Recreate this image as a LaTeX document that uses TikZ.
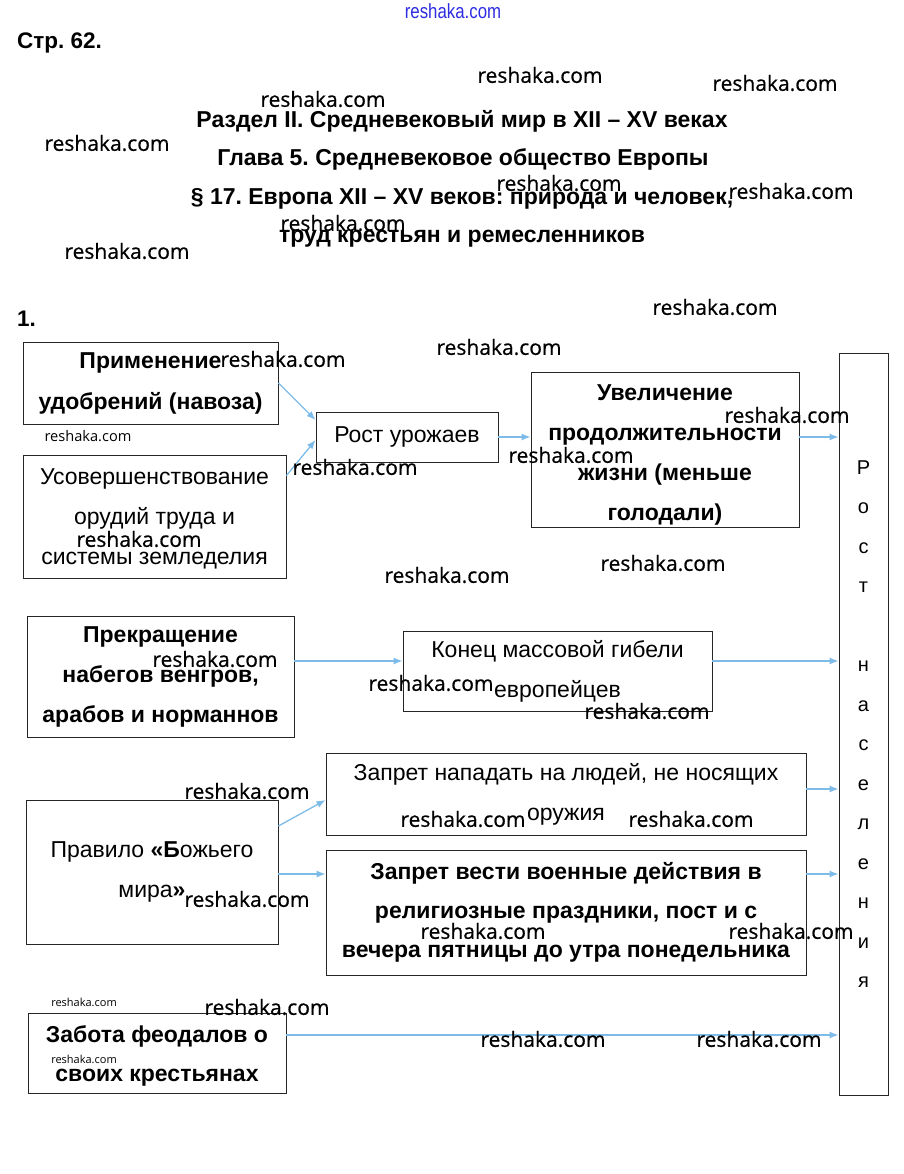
\documentclass[tikz,border=0pt]{standalone}
\usepackage{fontspec}
\setmainfont{Liberation Sans}
\newfontfamily\narrowfont[FakeStretch=0.82]{Liberation Sans}
\newfontfamily\markfont[FakeBold=0.6]{Open Sans}
\newfontfamily\smallmarkfont{Open Sans}
\usetikzlibrary{arrows.meta, positioning}
\definecolor{arrowblue}{RGB}{125,188,232}
\definecolor{markblue}{RGB}{45,45,225}
\frenchspacing

\begin{document}
\begin{tikzpicture}[x=1pt, y=-1pt,
	box/.style={draw=black!85, line width=0.9pt, align=center, inner sep=0pt, font=\fontsize{23}{40}\selectfont},
	heading/.style={font=\bfseries\fontsize{23}{23}\selectfont, inner sep=0pt},
	link/.style={draw=arrowblue, line width=1.3pt, -{Latex[length=9pt, width=7pt]}},
	wmark/.style={font=\markfont\fontsize{21}{21}\selectfont, inner sep=0pt},
	smallwmark/.style={font=\smallmarkfont\fontsize{14.6}{15}\selectfont, inner sep=0pt}]
	% Page:
	\fill[white] (0,0) rectangle (903,1174);
	\useasboundingbox (0,0) rectangle (903,1174);
	% Headings:
	\node[heading, font=\bfseries\fontsize{22.5}{22}\selectfont, anchor=west] (page) at (17,43) {Стр. 62.};
	\node[heading] (part) at (462,121) {Раздел II. Средневековый мир в XII – XV веках};
	\node[heading] (chapter) at (463,159) {Глава 5. Средневековое общество Европы};
	\node[heading] (para) at (462,199) {§ 17. Европа XII – XV веков: природа и человек,};
	\node[heading] (para2) at (462,239) {труд крестьян и ремесленников};
	\node[heading, font=\bfseries\fontsize{22.5}{22}\selectfont, anchor=west] (task) at (17,319) {1.};
	% Boxes:
	\node[box, minimum width=255pt, minimum height=82pt, font=\fontsize{23}{41}\selectfont] (fert) at (150.5,383) {\textbf{Применение}\\\textbf{удобрений (навоза)}};
	\node[box, minimum width=263pt, minimum height=123pt] (tools) at (154.5,516.5) {\rule{0pt}{20.5pt}Усовершенствование\\орудий труда и\\системы земледелия};
	\node[box, minimum width=182pt, minimum height=50pt] (harvest) at (407,437) {Рост урожаев};
	\node[box, minimum width=268pt, minimum height=155pt] (life) at (665,449.5) {\rule{0pt}{26.5pt}\textbf{Увеличение}\\\textbf{продолжительности}\\\textbf{жизни (меньше}\\\textbf{голодали)}};
	\node[box, font=\fontsize{20}{39.5}\selectfont, minimum width=49pt, minimum height=742pt] (growth) at (863.5,724) {Р\\о\\с\\т\\{}\\н\\а\\с\\е\\л\\е\\н\\и\\я};
	\node[box, minimum width=267pt, minimum height=121pt] (raids) at (160.5,676.5) {\textbf{Прекращение}\\\textbf{набегов венгров,}\\\textbf{арабов и норманнов}};
	\node[box, minimum width=309pt, minimum height=80pt] (deaths) at (557.5,671) {Конец массовой гибели\\европейцев};
	\node[box, minimum width=480pt, minimum height=82pt] (unarmed) at (566,794) {Запрет нападать на людей, не носящих\\оружия};
	\node[box, minimum width=252pt, minimum height=144pt] (peace) at (152,872) {Правило \textbf{«Б}ожьего\\мира\textbf{»}};
	\node[box, font=\fontsize{23}{39}\selectfont, minimum width=480pt, minimum height=125pt] (truce) at (566,912.5) {\textbf{Запрет вести военные действия в}\\\textbf{религиозные праздники, пост и с}\\\textbf{вечера пятницы до утра понедельника}};
	\node[box, font=\fontsize{23}{39}\selectfont, minimum width=258pt, minimum height=80pt] (care) at (157,1053) {\rule{0pt}{23.5pt}\textbf{Забота феодалов о}\\\textbf{своих крестьянах}};
	% Arrows:
	\coordinate (dl) at ([yshift=10pt]deaths.west);
	\coordinate (dr) at ([yshift=10pt]deaths.east);
	\coordinate (tl) at ([yshift=38.5pt]truce.west);
	\coordinate (ur) at ([yshift=5pt]unarmed.east);
	\coordinate (cr) at ([yshift=18pt]care.east);
	\draw[link] (fert.east) -- ([yshift=17pt]harvest.west);
	\draw[link] ([yshift=-21pt]tools.north east) -- ([yshift=-3pt]harvest.west);
	\draw[link] (harvest.east) -- (harvest.east -| life.west);
	\draw[link] (life.east |- harvest.east) -- (harvest.east -| growth.west);
	\draw[link] (raids.east |- dl) -- (dl);
	\draw[link] (dr) -- (dr -| growth.west);
	\draw[link] ([yshift=46pt]peace.east) -- ([yshift=-6pt]unarmed.west);
	\draw[link] (peace.east |- tl) -- (tl);
	\draw[link] (ur) -- (ur -| growth.west);
	\draw[link] (truce.east |- tl) -- (tl -| growth.west);
	\draw[link] (cr) -- (cr -| growth.west);
	% Watermarks:
	\node[font=\narrowfont\fontsize{20.5}{21}\selectfont, text=markblue, inner sep=0pt] (wm0) at (453,11) {reshaka.com};
	\foreach \x/\y [count=\i] in {540/75, 775/83, 323/99, 107/143, 559/183, 791/191, 343/223, 127/251,
		715/307, 499/347, 283/359, 787/415, 355/467, 571/455, 139/539, 663/563, 447/575,
		215/659, 431/683, 647/711, 247/791, 463/819, 691/819, 247/899, 483/931, 791/931,
		267/1007, 543/1039, 759/1039}
		\node[wmark] (wm\i) at (\x,\y) {reshaka.com};
	\node[smallwmark] (swm1) at (88,436) {reshaka.com};
	\node[smallwmark, font=\smallmarkfont\fontsize{11}{11}\selectfont] (swm2) at (84,1002) {reshaka.com};
	\node[smallwmark, font=\smallmarkfont\fontsize{11}{11}\selectfont] (swm3) at (84,1059) {reshaka.com};
\end{tikzpicture}
\end{document}
